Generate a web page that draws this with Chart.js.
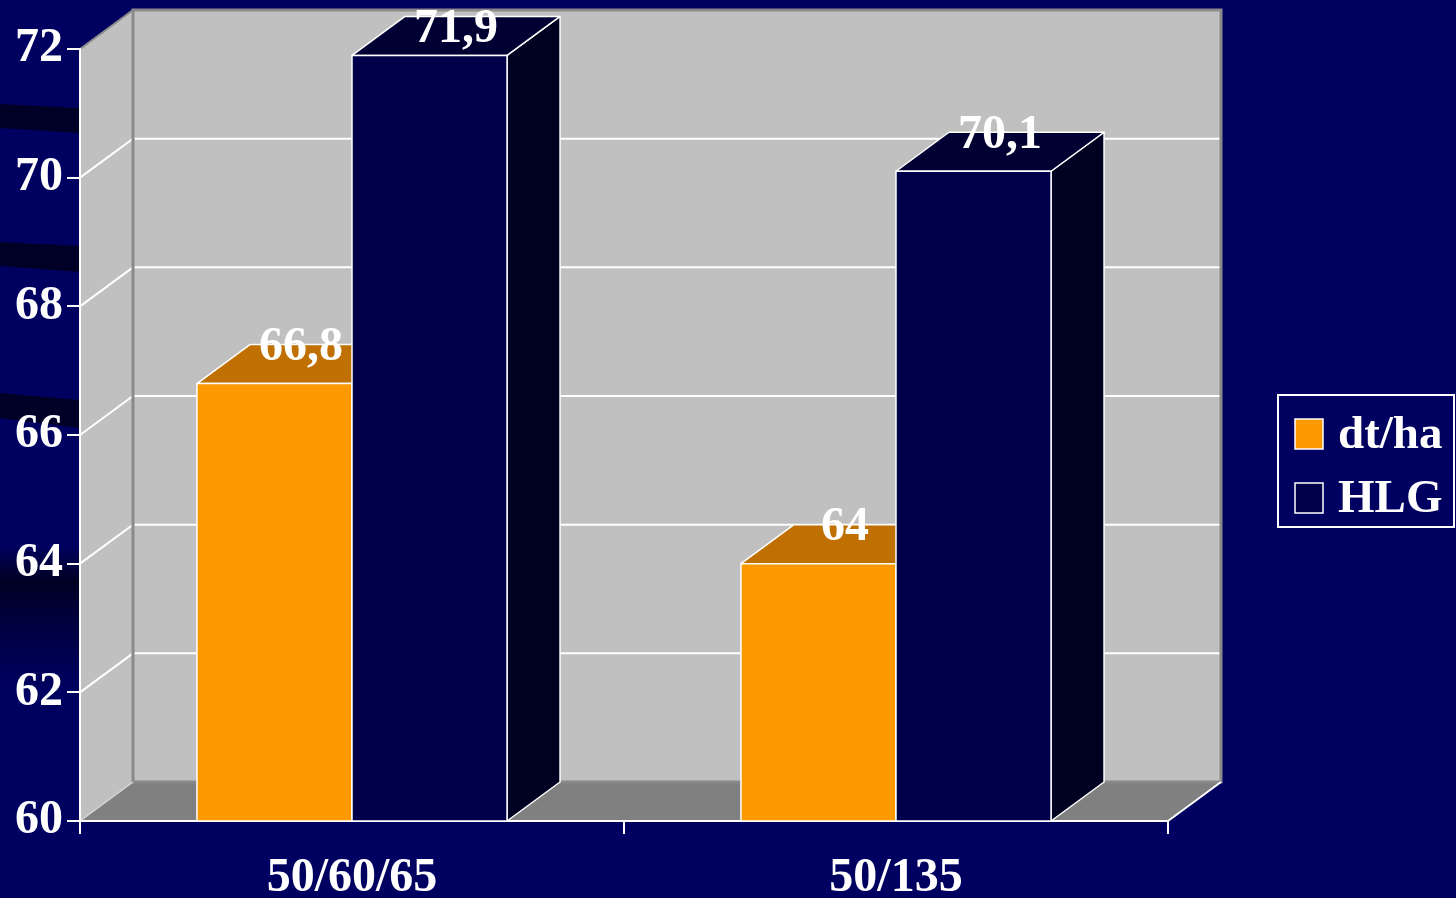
<!DOCTYPE html>
<html>
<head>
<meta charset="utf-8">
<script src="https://cdn.jsdelivr.net/npm/chart.js@4/dist/chart.umd.min.js"></script>
<style>
  html, body { margin: 0; padding: 0; background: #000060; }
  #wrap { width: 1456px; height: 898px; position: relative; }
</style>
</head>
<body>
<div id="wrap"><canvas id="chart"></canvas></div>
<script>
// chart data
const categories = ['50/60/65', '50/135'];
const seriesNames = ['dt/ha', 'HLG'];
const dtHa = [66.8, 64];
const hlg = [71.9, 70.1];
const yMin = 60, yMax = 72, yStep = 2;

// look
const FONT = '"Liberation Serif", "Times New Roman", serif';
const DX = 53, DY = -39;   // depth of the 3d box
const faces = [
  { front: '#FF9900', top: '#C07000', side: '#A05C00' },
  { front: '#00004A', top: '#000032', side: '#000020' }
];

Chart.defaults.font.family = FONT;
Chart.defaults.font.weight = 'bold';
Chart.defaults.color = '#FFFFFF';

const fmt = v => String(v).replace('.', ',');

// background, walls, floor and back grid lines
const box3d = {
  id: 'box3d',
  beforeDraw(chart) {
    const { ctx, chartArea: a, scales } = chart;
    const W = chart.width, H = chart.height;
    ctx.save();
    ctx.fillStyle = '#000060';
    ctx.fillRect(0, 0, W, H);
    // dark streaks of the slide template
    ctx.fillStyle = 'rgba(0,0,20,0.75)';
    [[104, 128, 108, 133], [242, 266, 246, 272], [393, 418, 400, 428]].forEach(([a0, a1, b0, b1]) => {
      ctx.beginPath();
      ctx.moveTo(0, a0); ctx.lineTo(a.left, b0); ctx.lineTo(a.left, b1); ctx.lineTo(0, a1);
      ctx.closePath(); ctx.fill();
    });
    const g = ctx.createLinearGradient(0, 545, 0, 690);
    g.addColorStop(0, 'rgba(0,0,20,0)');
    g.addColorStop(0.25, 'rgba(0,0,20,0.8)');
    g.addColorStop(1, 'rgba(0,0,40,0)');
    ctx.fillStyle = g;
    ctx.fillRect(0, 545, a.left, 145);

    const L = a.left, R = a.right, T = a.top, B = a.bottom;
    // left wall
    ctx.fillStyle = '#C0C0C0';
    ctx.beginPath();
    ctx.moveTo(L, B); ctx.lineTo(L, T); ctx.lineTo(L + DX, T + DY); ctx.lineTo(L + DX, B + DY);
    ctx.closePath(); ctx.fill();
    // back wall
    ctx.fillRect(L + DX, T + DY, R - L, B - T);
    // floor
    ctx.fillStyle = '#808080';
    ctx.beginPath();
    ctx.moveTo(L, B); ctx.lineTo(R, B); ctx.lineTo(R + DX, B + DY); ctx.lineTo(L + DX, B + DY);
    ctx.closePath(); ctx.fill();

    // grid lines on back and left wall
    const y = scales.y;
    ctx.strokeStyle = '#FFFFFF';
    ctx.lineWidth = 2;
    y.ticks.forEach(t => {
      if (t.value <= yMin || t.value >= yMax) return;
      const py = y.getPixelForValue(t.value);
      ctx.beginPath();
      ctx.moveTo(L, py); ctx.lineTo(L + DX, py + DY); ctx.lineTo(R + DX, py + DY);
      ctx.stroke();
    });

    // wall edges
    ctx.strokeStyle = '#8A8A8A';
    ctx.lineWidth = 3;
    ctx.strokeRect(L + DX, T + DY, R - L, B - T);
    ctx.lineWidth = 2;
    ctx.beginPath();
    ctx.moveTo(L, T); ctx.lineTo(L + DX, T + DY);
    ctx.stroke();
    ctx.strokeStyle = '#D8D8D8';
    ctx.lineWidth = 1.5;
    ctx.beginPath();
    ctx.moveTo(L, B); ctx.lineTo(L + DX, B + DY);
    ctx.stroke();
    ctx.strokeStyle = '#FFFFFF';
    ctx.lineWidth = 2;
    ctx.beginPath();
    ctx.moveTo(R, B); ctx.lineTo(R + DX, B + DY);
    ctx.stroke();
    ctx.restore();
  },

  // redraw every bar as a box, left to right, so nearer faces cover farther ones
  afterDatasetsDraw(chart) {
    const { ctx, chartArea: a } = chart;
    const metas = chart.data.datasets.map((_, i) => chart.getDatasetMeta(i));
    ctx.save();
    ctx.strokeStyle = '#FFFFFF';
    ctx.lineWidth = 1.5;
    ctx.lineJoin = 'round';
    const poly = (pts, fill) => {
      ctx.beginPath();
      pts.forEach(([px, py], k) => (k ? ctx.lineTo(px, py) : ctx.moveTo(px, py)));
      ctx.closePath();
      ctx.fillStyle = fill;
      ctx.fill();
      ctx.stroke();
    };
    const labels = [];
    categories.forEach((_, ci) => {
      metas.forEach((meta, di) => {
        const el = meta.data[ci];
        const { x, y, width } = el.getProps(['x', 'y', 'width'], true);
        const base = a.bottom;
        const l = x - width / 2, r = x + width / 2;
        const f = faces[di];
        poly([[r, y], [r + DX, y + DY], [r + DX, base + DY], [r, base]], f.side);
        poly([[l, y], [l + DX, y + DY], [r + DX, y + DY], [r, y]], f.top);
        poly([[l, y], [r, y], [r, base], [l, base]], f.front);
        labels.push({ x: x + DX / 2, y: Math.max(y + DY + 3, 30), text: fmt(chart.data.datasets[di].data[ci]) });
      });
    });
    ctx.fillStyle = '#FFFFFF';
    ctx.font = 'bold 48px ' + FONT;
    ctx.textAlign = 'center';
    ctx.textBaseline = 'middle';
    labels.forEach(lb => ctx.fillText(lb.text, lb.x, lb.y));
    ctx.restore();
  },

  // legend box
  afterDraw(chart) {
    const { ctx } = chart;
    ctx.save();
    ctx.strokeStyle = '#FFFFFF';
    ctx.lineWidth = 2;
    ctx.strokeRect(1278, 395, 176, 132);
    ctx.font = 'bold 47px ' + FONT;
    ctx.textAlign = 'left';
    ctx.textBaseline = 'middle';
    chart.data.datasets.forEach((ds, i) => {
      const cy = 434 + i * 64;
      ctx.fillStyle = faces[i].front;
      ctx.fillRect(1295, cy - 15, 28, 30);
      ctx.lineWidth = 1.5;
      ctx.strokeRect(1295, cy - 15, 28, 30);
      ctx.fillStyle = '#FFFFFF';
      ctx.fillText(ds.label, 1338, cy + 2);
    });
    ctx.restore();
  }
};

new Chart(document.getElementById('chart'), {
  type: 'bar',
  data: {
    labels: categories,
    datasets: [
      { label: seriesNames[0], data: dtHa, backgroundColor: faces[0].front, borderColor: '#FFFFFF', borderWidth: 1.5 },
      { label: seriesNames[1], data: hlg, backgroundColor: faces[1].front, borderColor: '#FFFFFF', borderWidth: 1.5 }
    ]
  },
  options: {
    responsive: true,
    maintainAspectRatio: false,
    animation: false,
    layout: { padding: { top: 49, right: 288, left: 0, bottom: 0 } },
    categoryPercentage: 0.57,
    barPercentage: 1,
    plugins: {
      legend: { display: false },
      tooltip: { enabled: false }
    },
    scales: {
      x: {
        afterFit: s => { s.height = 77; },
        grid: { offset: true, drawOnChartArea: false, drawTicks: true, tickLength: 13, color: '#FFFFFF', lineWidth: 2 },
        border: { display: true, color: '#FFFFFF', width: 2 },
        ticks: { font: { size: 48, weight: 'bold' }, color: '#FFFFFF', padding: 16, maxRotation: 0 }
      },
      y: {
        min: yMin,
        max: yMax,
        afterFit: s => { s.width = 80; },
        grid: { drawOnChartArea: false, drawTicks: true, tickLength: 13, color: '#FFFFFF', lineWidth: 2 },
        border: { display: true, color: '#FFFFFF', width: 2 },
        ticks: { stepSize: yStep, font: { size: 48, weight: 'bold' }, color: '#FFFFFF', padding: 4 }
      }
    }
  },
  plugins: [box3d]
});
</script>
</body>
</html>
